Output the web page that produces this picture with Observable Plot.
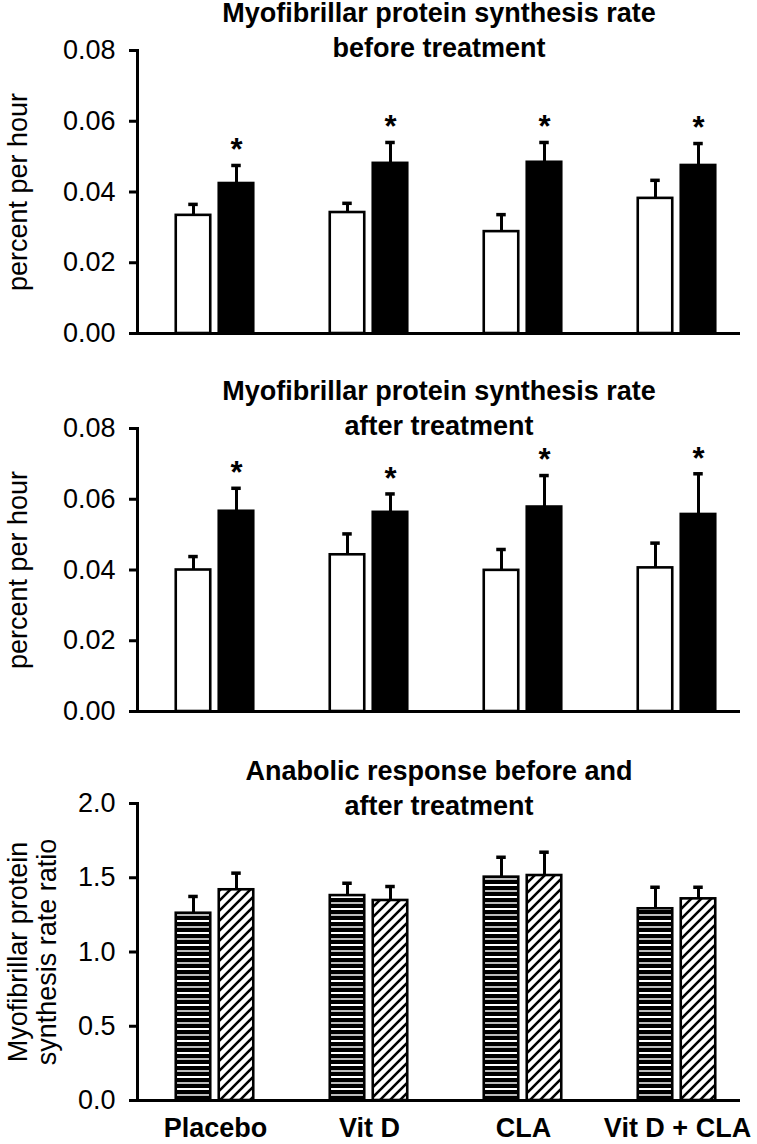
<!DOCTYPE html>
<html>
<head>
<meta charset="utf-8">
<script src="https://cdn.jsdelivr.net/npm/d3@7"></script>
<script src="https://cdn.jsdelivr.net/npm/@observablehq/plot@0.6"></script>
<style>
  html, body { margin: 0; padding: 0; background: #fff; }
  #chart svg { display: block; overflow: visible; }
  #chart [aria-label="x-axis tick label"] { font-weight: bold; }
</style>
</head>
<body>
<div id="chart"></div>
<script>
// ---------- data ----------
const groups = ["Placebo", "Vit D", "CLA", "Vit D + CLA"];

// Panel 1: myofibrillar protein synthesis rate before treatment (percent per hour)
const beforeOpen = [0.0334, 0.0342, 0.0288, 0.0382];
const beforeOpenSE = [0.0031, 0.0026, 0.0048, 0.0051];
const beforeFilled = [0.0424, 0.0481, 0.0484, 0.0475];
const beforeFilledSE = [0.0051, 0.0059, 0.0056, 0.0062];

// Panel 2: after treatment
const afterOpen = [0.0400, 0.0443, 0.0399, 0.0406];
const afterOpenSE = [0.0038, 0.0059, 0.0059, 0.0070];
const afterFilled = [0.0566, 0.0563, 0.0578, 0.0557];
const afterFilledSE = [0.0065, 0.0052, 0.0089, 0.0115];

// Panel 3: anabolic response ratio before and after treatment
const ratioBefore = [1.261, 1.380, 1.504, 1.291];
const ratioBeforeSE = [0.113, 0.083, 0.134, 0.145];
const ratioAfter = [1.419, 1.347, 1.515, 1.358];
const ratioAfterSE = [0.112, 0.094, 0.157, 0.078];

const ticksRate = [0, 0.02, 0.04, 0.06, 0.08];
const ticksRatio = [0, 0.5, 1.0, 1.5, 2.0];

const titles = [
  "Myofibrillar protein synthesis rate\nbefore treatment",
  "Myofibrillar protein synthesis rate\nafter treatment",
  "Anabolic response before and\nafter treatment"
];
const yLabels = ["percent per hour", "percent per hour", "Myofibrillar protein\nsynthesis rate ratio"];

// ---------- helpers ----------
const FONT = "'Liberation Sans', Arial, Helvetica, sans-serif";
const X_RANGE = [137, 755];
const STEP = (X_RANGE[1] - X_RANGE[0]) / groups.length;
const HALF = 17.5;
const insets = (offset, half = HALF) => ({insetLeft: STEP / 2 + offset - half, insetRight: STEP / 2 - offset - half});
const rows = (vals, ses) => groups.map((g, i) => ({group: g, value: vals[i], se: ses[i]}));

const defs = () => {
  const d = d3.create("svg:defs");
  const s = d.append("pattern").attr("id", "hstripe").attr("patternUnits", "userSpaceOnUse")
    .attr("width", 10).attr("height", 12);
  s.append("rect").attr("width", 10).attr("height", 12).attr("fill", "#000");
  s.append("rect").attr("y", 2).attr("width", 10).attr("height", 2).attr("fill", "#fff");
  s.append("rect").attr("y", 8).attr("width", 10).attr("height", 2).attr("fill", "#bdbdbd");
  const h = d.append("pattern").attr("id", "hatch").attr("patternUnits", "userSpaceOnUse")
    .attr("width", 10).attr("height", 10);
  h.append("rect").attr("width", 10).attr("height", 10).attr("fill", "#fff");
  h.append("path").attr("d", "M-2.5,2.5 L2.5,-2.5 M0,10 L10,0 M7.5,12.5 L12.5,7.5")
    .attr("stroke", "#000").attr("stroke-width", 2.6);
  return d.node();
};

function panel({series, yDomain, yTicks, fmt, height, marginTop, marginBottom, title, titleDy, ylabel, ylabelDx, ylabelLH, showX}) {
  const marks = [defs];
  for (const s of series) {
    marks.push(Plot.barY(s.rows, {x: "group", y: "value", fill: s.fill, stroke: "#000", strokeWidth: 2.6, ...insets(s.offset)}));
    marks.push(Plot.ruleX(s.rows, {x: "group", y1: "value", y2: d => d.value + d.se, dx: s.offset, stroke: "#000", strokeWidth: 3}));
    marks.push(Plot.tickY(s.rows, {x: "group", y: d => d.value + d.se, stroke: "#000", strokeWidth: 3.5, ...insets(s.offset, 5)}));
    if (s.star) {
      marks.push(Plot.text(s.rows, {x: "group", y: d => d.value + d.se, text: () => "*", dx: s.offset, dy: -15, fontSize: 31, fontWeight: "bold", fill: "#000"}));
    }
  }
  marks.push(
    Plot.ruleY([0], {stroke: "#000", strokeWidth: 3}),
    Plot.frame({anchor: "left", stroke: "#000", strokeWidth: 3}),
    Plot.axisY({ticks: yTicks, tickFormat: fmt, tickSize: 8, tickPadding: 14, strokeWidth: 3, label: null, fill: "#000"}),
    Plot.text([title], {text: d => d, frameAnchor: "top", textAnchor: "middle", lineAnchor: "bottom", dy: titleDy, fontSize: 27, fontWeight: "bold", lineHeight: 1.27, fill: "#000"}),
    Plot.text([ylabel], {text: d => d, frameAnchor: "left", textAnchor: "middle", lineAnchor: "middle", rotate: -90, dx: ylabelDx, fontSize: 27, lineHeight: ylabelLH, fill: "#000"})
  );
  if (showX) marks.push(Plot.axisX({tickSize: 0, tickPadding: 17, label: null, fontWeight: "bold", fill: "#000"}));
  return Plot.plot({
    width: 757,
    height,
    marginTop,
    marginBottom,
    marginLeft: 137,
    marginRight: 17,
    style: {fontFamily: FONT, fontSize: "27px", color: "#000", background: "#fff", overflow: "visible"},
    x: {type: "band", domain: groups, range: X_RANGE, padding: 0, axis: null},
    y: {domain: yDomain, axis: null, label: null},
    marks
  });
}

const chart = document.getElementById("chart");
chart.append(panel({
  series: [
    {rows: rows(beforeOpen, beforeOpenSE), fill: "#fff", offset: -22, star: false},
    {rows: rows(beforeFilled, beforeFilledSE), fill: "#000", offset: 21, star: true}
  ],
  yDomain: [0, 0.08], yTicks: ticksRate, fmt: d3.format(".2f"),
  height: 370, marginTop: 50, marginBottom: 37,
  title: titles[0], titleDy: 6, ylabel: yLabels[0], ylabelDx: -119, ylabelLH: 1, showX: false
}));
chart.append(panel({
  series: [
    {rows: rows(afterOpen, afterOpenSE), fill: "#fff", offset: -22, star: false},
    {rows: rows(afterFilled, afterFilledSE), fill: "#000", offset: 21, star: true}
  ],
  yDomain: [0, 0.08], yTicks: ticksRate, fmt: d3.format(".2f"),
  height: 380, marginTop: 58, marginBottom: 39,
  title: titles[1], titleDy: 6, ylabel: yLabels[1], ylabelDx: -119, ylabelLH: 1, showX: false
}));
chart.append(panel({
  series: [
    {rows: rows(ratioBefore, ratioBeforeSE), fill: "url(#hstripe)", offset: -22, star: false},
    {rows: rows(ratioAfter, ratioAfterSE), fill: "url(#hatch)", offset: 21, star: false}
  ],
  yDomain: [0, 2.0], yTicks: ticksRatio, fmt: d3.format(".1f"),
  height: 394, marginTop: 53, marginBottom: 44,
  title: titles[2], titleDy: 11, ylabel: yLabels[2], ylabelDx: -105, ylabelLH: 1.05, showX: true
}));
</script>
</body>
</html>
